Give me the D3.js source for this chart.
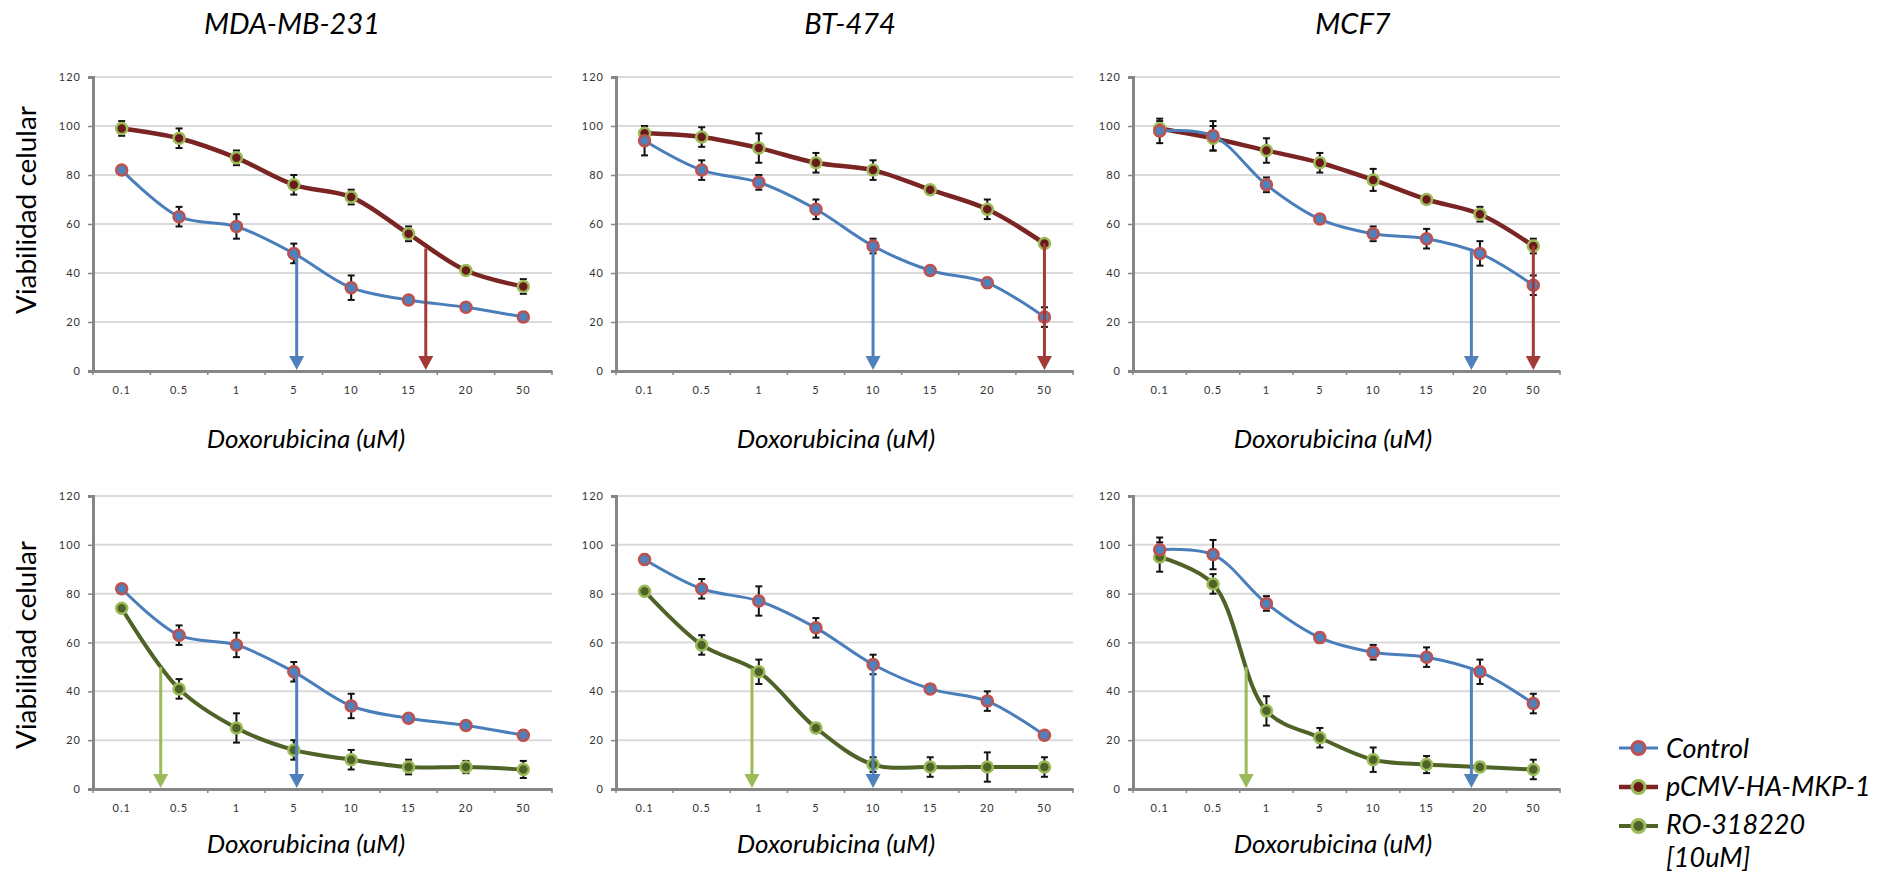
<!DOCTYPE html>
<html>
<head>
<meta charset="utf-8">
<script src="https://cdn.jsdelivr.net/npm/d3@7"></script>
<style>
  html, body { margin: 0; padding: 0; background: #fff; }
  svg { display: block; }
  text { font-family: Lato, "Open Sans", "Liberation Sans", sans-serif; }
</style>
</head>
<body>
<svg id="chart" width="1904" height="879"></svg>
<script>
// doses on the x axis (categorical)
const doses = ["0.1", "0.5", "1", "5", "10", "15", "20", "50"];
const cellLines = ["MDA-MB-231", "BT-474", "MCF7"];
const seriesNames = ["Control", "pCMV-HA-MKP-1", "RO-318220", "[10uM]"];
const yTicks = [0, 20, 40, 60, 80, 100, 120];

// top row: control vs pCMV-HA-MKP-1
const ctrlMDA = [82, 63, 59, 48, 34, 29, 26, 22];
const ctrlMDAErr = [1, 4, 5, 4, 5, 1, 1.5, 2];
const mkpMDA = [99, 95, 87, 76, 71, 56, 41, 34.5];
const mkpMDAErr = [3, 4, 3, 4, 3, 3, 1.5, 3];

const ctrlBT = [94, 82, 77, 66, 51, 41, 36, 22];
const ctrlBTErr = [6, 4, 3, 4, 3, 1, 2, 4];
const mkpBT = [97, 95.5, 91, 85, 82, 74, 66, 52];
const mkpBTErr = [3, 4, 6, 4, 4, 1, 4, 1];

const ctrlMCF = [98, 96, 76, 62, 56, 54, 48, 35];
const ctrlMCFErr = [5, 6, 3, 1.5, 3, 4, 5, 4];
const mkpMCF = [99, 95, 90, 85, 78, 70, 64, 51];
const mkpMCFErr = [3, 5, 5, 4, 4.5, 1.5, 3, 3];

// bottom row: control vs RO-318220
const ctrl2MDA = [82, 63, 59, 48, 34, 29, 26, 22];
const ctrl2MDAErr = [1, 4, 5, 4, 5, 1, 1, 2];
const roMDA = [74, 41, 25, 16, 12, 9, 9, 8];
const roMDAErr = [1.5, 4, 6, 4, 4, 3, 2.5, 3.5];

const ctrl2BT = [94, 82, 77, 66, 51, 41, 36, 22];
const ctrl2BTErr = [2, 4, 6, 4, 4, 1, 4, 1];
const roBT = [81, 59, 48, 25, 10, 9, 9, 9];
const roBTErr = [1.5, 4, 5, 2, 3, 4, 6, 4];

const ctrl2MCF = [98, 96, 76, 62, 56, 54, 48, 35];
const ctrl2MCFErr = [5, 6, 3, 2, 3, 4, 5, 4];
const roMCF = [95, 84, 32, 21, 12, 10, 9, 8];
const roMCFErr = [6, 4, 6, 4, 5, 3.5, 2, 4];

// IC50 arrows: position in dose-index units, start value, series index
const arrowsMDA = [{ at: 3.05, from: 48, s: 0 }, { at: 5.3, from: 50, s: 1 }];
const arrowsBT = [{ at: 4, from: 51, s: 0 }, { at: 7, from: 52, s: 1 }];
const arrowsMCF = [{ at: 5.84, from: 50, s: 0 }, { at: 7, from: 51, s: 1 }];
const arrowsMDA2 = [{ at: 0.68, from: 50, s: 2 }, { at: 3.05, from: 48, s: 0 }];
const arrowsBT2 = [{ at: 1.88, from: 49.5, s: 2 }, { at: 4, from: 51, s: 0 }];
const arrowsMCF2 = [{ at: 1.62, from: 50, s: 2 }, { at: 5.84, from: 50, s: 0 }];

const lineColor = ["#4a7ebb", "#7a2424", "#4f6228"];
const markFill = ["#4f81bd", "#6b1a1a", "#4f6228"];
const markStroke = ["#c0504d", "#9bbb59", "#9bbb59"];
const lineWidth = [3, 4.5, 4];
const arrowColor = ["#4f81bd", "#a33a38", "#9bbb59"];

const svg = d3.select("#chart");

const cols = [[93, 552], [616, 1073], [1133, 1560]];
const rows = [[77, 371], [496, 789]];

const panels = [
    { r: 0, c: 0, series: [[ctrlMDA, ctrlMDAErr, 0], [mkpMDA, mkpMDAErr, 1]], arrows: arrowsMDA },
    { r: 0, c: 1, series: [[ctrlBT, ctrlBTErr, 0], [mkpBT, mkpBTErr, 1]], arrows: arrowsBT },
    { r: 0, c: 2, series: [[ctrlMCF, ctrlMCFErr, 0], [mkpMCF, mkpMCFErr, 1]], arrows: arrowsMCF },
    { r: 1, c: 0, series: [[ctrl2MDA, ctrl2MDAErr, 0], [roMDA, roMDAErr, 2]], arrows: arrowsMDA2 },
    { r: 1, c: 1, series: [[ctrl2BT, ctrl2BTErr, 0], [roBT, roBTErr, 2]], arrows: arrowsBT2 },
    { r: 1, c: 2, series: [[ctrl2MCF, ctrl2MCFErr, 0], [roMCF, roMCFErr, 2]], arrows: arrowsMCF2 }
];

function drawPanel(p) {
    const [left, right] = cols[p.c];
    const [top, bottom] = rows[p.r];

    const x = d3.scaleLinear().domain([-0.5, doses.length - 0.5]).range([left, right]);
    const xBand = d3.scaleBand().domain(doses).range([left, right]);
    const y = d3.scaleLinear().domain([0, 120]).range([bottom, top]);

    const g = svg.append("g");

    // gridlines
    g.selectAll(".grid").data(yTicks.filter(t => t > 0)).enter()
        .append("line")
        .attr("x1", left).attr("x2", right)
        .attr("y1", d => y(d)).attr("y2", d => y(d))
        .style("stroke", "#d9d9d9").style("stroke-width", 2);

    // y axis
    const yAxis = g.append("g")
        .attr("transform", "translate(" + left + ",0)")
        .call(d3.axisLeft(y).tickValues(yTicks).tickSize(5).tickPadding(7));
    yAxis.select(".domain").style("stroke", "#868686").style("stroke-width", 3);
    yAxis.selectAll(".tick line").style("stroke", "#868686").style("stroke-width", 1.5);
    yAxis.selectAll("text").style("font-size", "11px").style("letter-spacing", "1px").style("fill", "#333");

    // x axis, ticks on category boundaries
    const xAxis = g.append("g")
        .attr("transform", "translate(0," + bottom + ")")
        .call(d3.axisBottom(xBand).tickSize(0).tickPadding(15));
    xAxis.select(".domain").style("stroke", "#868686").style("stroke-width", 3);
    xAxis.selectAll("text").style("font-size", "11px").style("letter-spacing", "1px").style("fill", "#333");
    g.selectAll(".xtick").data(d3.range(doses.length + 1)).enter()
        .append("line")
        .attr("x1", d => x(d - 0.5)).attr("x2", d => x(d - 0.5))
        .attr("y1", bottom).attr("y2", bottom + 4)
        .style("stroke", "#868686").style("stroke-width", 1.5);

    const line = d3.line()
        .x((d, i) => x(i))
        .y(d => y(d))
        .curve(d3.curveCatmullRom.alpha(0.5));

    // draw second series first so control sits on top like the original
    const order = p.series.slice().reverse();

    order.forEach(([vals, errs, s]) => {
        g.append("path")
            .datum(vals)
            .attr("d", line)
            .style("fill", "none")
            .style("stroke", lineColor[s])
            .style("stroke-width", lineWidth[s])
            .style("stroke-linejoin", "round");
    });

    order.forEach(([vals, errs, s]) => {
        const eb = g.append("g");
        vals.forEach((v, i) => {
            const cx = x(i);
            const y1 = y(v + errs[i]), y2 = y(v - errs[i]);
            eb.append("line").attr("x1", cx).attr("x2", cx).attr("y1", y1).attr("y2", y2);
            eb.append("line").attr("x1", cx - 3.5).attr("x2", cx + 3.5).attr("y1", y1).attr("y2", y1);
            eb.append("line").attr("x1", cx - 3.5).attr("x2", cx + 3.5).attr("y1", y2).attr("y2", y2);
        });
        eb.selectAll("line").style("stroke", "#111").style("stroke-width", 2);
    });

    order.forEach(([vals, errs, s]) => {
        g.selectAll(".m" + s).data(vals).enter()
            .append("circle")
            .attr("cx", (d, i) => x(i))
            .attr("cy", d => y(d))
            .attr("r", 5.5)
            .style("fill", markFill[s])
            .style("stroke", markStroke[s])
            .style("stroke-width", 2.5);
    });

    // IC50 arrows
    p.arrows.forEach(a => {
        const ax = x(a.at);
        const head = 15;
        g.append("line")
            .attr("x1", ax).attr("x2", ax)
            .attr("y1", y(a.from)).attr("y2", y(0) - head + 2)
            .style("stroke", arrowColor[a.s]).style("stroke-width", 3);
        g.append("path")
            .attr("d", "M" + (ax - 7.5) + "," + (y(0) - head) + "L" + (ax + 7.5) + "," + (y(0) - head) + "L" + ax + "," + (y(0) - 1) + "Z")
            .style("fill", arrowColor[a.s]);
    });
}

panels.forEach(drawPanel);

// cell line titles
const titleX = [292, 850, 1353];
svg.selectAll(".title").data(cellLines).enter()
    .append("text")
    .attr("x", (d, i) => titleX[i])
    .attr("y", 34)
    .attr("text-anchor", "middle")
    .style("font-size", "29px")
    .style("font-style", "italic")
    .text(d => d);

// x axis titles
const xTitleX = [306, 836, 1333];
const xTitleY = [448, 853];
xTitleY.forEach(ty => {
    xTitleX.forEach(tx => {
        svg.append("text")
            .attr("x", tx).attr("y", ty)
            .attr("text-anchor", "middle")
            .style("font-size", "26px")
            .style("font-style", "italic")
            .text("Doxorubicina (uM)");
    });
});

// y axis titles
[210, 645].forEach(cy => {
    svg.append("text")
        .attr("transform", "translate(36," + cy + ") rotate(-90)")
        .attr("text-anchor", "middle")
        .attr("textLength", 208)
        .attr("lengthAdjust", "spacingAndGlyphs")
        .style("font-size", "26px")
        .text("Viabilidad celular");
});

// legend
const legend = svg.append("g").attr("transform", "translate(1619,748)");
[0, 1, 2].forEach(s => {
    const ly = s * 39;
    legend.append("line")
        .attr("x1", 0).attr("x2", 39).attr("y1", ly).attr("y2", ly)
        .style("stroke", lineColor[s]).style("stroke-width", lineWidth[s]);
    legend.append("circle")
        .attr("cx", 19.5).attr("cy", ly).attr("r", 6.5)
        .style("fill", markFill[s]).style("stroke", markStroke[s]).style("stroke-width", 3);
});
const legendBase = [10, 48, 86, 119];
legend.selectAll(".lt").data(seriesNames).enter()
    .append("text")
    .attr("x", 47)
    .attr("y", (d, i) => legendBase[i])
    .style("font-size", "27px")
    .style("font-style", "italic")
    .text(d => d);
</script>
</body>
</html>
